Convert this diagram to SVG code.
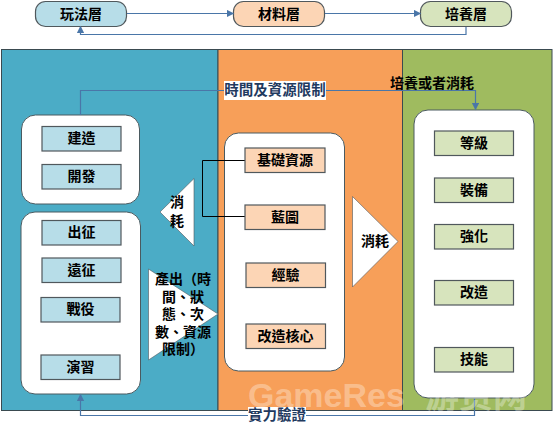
<svg xmlns="http://www.w3.org/2000/svg" width="554" height="430" viewBox="0 0 554 430">
<style>
text{font-family:"Liberation Sans","Noto Sans CJK TC","Noto Sans CJK SC",sans-serif;font-weight:700;font-size:14px;fill:#000;text-anchor:middle;dominant-baseline:central}
.band{stroke:#3a4a50;stroke-width:1}
.panel{fill:#fff;stroke:#4a5a60;stroke-width:1}
.b{fill:#b7dde8;stroke:#50585c;stroke-width:1.2}
.o{fill:#fcd5b5;stroke:#50585c;stroke-width:1.2}
.g{fill:#d7e4bd;stroke:#50585c;stroke-width:1.2}
.arrow{fill:#fff;stroke:#50585c;stroke-width:.6}
.c{fill:none;stroke:#4a76a8;stroke-width:1.2}
.k{fill:none;stroke:#000;stroke-width:1}
.lab{fill:#1f3a5f;font-size:14.500px}
.wm{font-family:"Liberation Sans",sans-serif;fill:#fff;fill-opacity:.32;font-size:34px;text-anchor:start;dominant-baseline:alphabetic}
.wz{font-family:"Noto Sans CJK SC",sans-serif}
</style>
<defs><marker id="ah" markerWidth="7" markerHeight="7" refX="5" refY="3" orient="auto"><path d="M0 0L6 3L0 6Z" fill="#4a76a8"/></marker></defs>
<g id="bands">
<rect class="band" x="1.500" y="49.500" width="216.500" height="361" fill="#4bacc6"/>
<rect class="band" x="218" y="49.500" width="184.500" height="361" fill="#f79f59"/>
<rect class="band" x="402.500" y="49.500" width="149.500" height="361" fill="#9fbb5f"/>
</g>
<g id="layer-play"><rect class="b" x="35.500" y="1.500" width="91" height="25" rx="10"/><text x="81" y="13.500">玩法層</text></g>
<g id="layer-material"><rect class="o" x="233.500" y="1.500" width="91" height="25" rx="10"/><text x="279" y="13.500">材料層</text></g>
<g id="layer-train"><rect class="g" x="420.500" y="1.500" width="91" height="25" rx="10"/><text x="466" y="13.500">培養層</text></g>
<g id="panel-build"><rect class="panel" x="21.500" y="115" width="118" height="89" rx="14"/></g>
<g id="panel-battle"><rect class="panel" x="21" y="212" width="119.500" height="182" rx="14"/></g>
<g id="panel-resource"><rect class="panel" x="224.500" y="133" width="120" height="238" rx="14"/></g>
<g id="panel-growth"><rect class="panel" x="414" y="110" width="120" height="288" rx="14"/></g>
<g id="connectors">
<path class="c" d="M127 13.500H233" marker-end="url(#ah)"/>
<path class="c" d="M325 13.500H420" marker-end="url(#ah)"/>
<path class="c" d="M466 27V34.500H80.500V27" marker-end="url(#ah)"/>
<path class="c" d="M80.500 115V90.500H475.500V109" marker-end="url(#ah)"/>
<path class="c" d="M474.500 398V415.500H80.500V395" marker-end="url(#ah)"/>
<path class="k" d="M245 160.500H202.500V216.500H245"/>
</g>
<g id="n-build"><rect class="b" x="42" y="126.500" width="79" height="24.500"/><text x="81.500" y="138">建造</text></g>
<g id="n-dev"><rect class="b" x="42" y="164.500" width="79" height="24.500"/><text x="81.500" y="176">開發</text></g>
<g id="n-out"><rect class="b" x="42" y="220.500" width="79" height="24.500"/><text x="81.500" y="232">出征</text></g>
<g id="n-far"><rect class="b" x="42" y="258" width="79" height="24.500"/><text x="81.500" y="269.500">遠征</text></g>
<g id="n-war"><rect class="b" x="41" y="297.500" width="79" height="24.500"/><text x="80.500" y="309">戰役</text></g>
<g id="n-drill"><rect class="b" x="41" y="355" width="79" height="24.500"/><text x="80.500" y="366.500">演習</text></g>
<g id="n-base"><rect class="o" x="245" y="148" width="80" height="24.500"/><text x="285" y="160">基礎資源</text></g>
<g id="n-blue"><rect class="o" x="245" y="205" width="80" height="24.500"/><text x="285" y="217">藍圖</text></g>
<g id="n-exp"><rect class="o" x="246" y="263" width="79.500" height="24.500"/><text x="285.500" y="275">經驗</text></g>
<g id="n-core"><rect class="o" x="246" y="324" width="79.500" height="24.500"/><text x="285.500" y="336">改造核心</text></g>
<g id="n-level"><rect class="g" x="434.500" y="131" width="79" height="24.500"/><text x="474" y="142.500">等級</text></g>
<g id="n-equip"><rect class="g" x="434.500" y="178" width="79" height="24.500"/><text x="474" y="190">裝備</text></g>
<g id="n-up"><rect class="g" x="434.500" y="224.500" width="79" height="24.500"/><text x="474" y="236">強化</text></g>
<g id="n-mod"><rect class="g" x="434.500" y="280.500" width="79" height="24.500"/><text x="474" y="292">改造</text></g>
<g id="n-skill"><rect class="g" x="434.500" y="347.500" width="79" height="24.500"/><text x="474" y="359">技能</text></g>
<g id="arrow-consume-left"><path class="arrow" d="M194 178.500V246L160 212Z"/><text style="dominant-baseline:alphabetic"><tspan x="177" y="207">消</tspan><tspan x="177" y="226">耗</tspan></text></g>
<g id="arrow-consume-right"><path class="arrow" d="M352.500 196.500V287L398 241.500Z"/><text x="375" y="241">消耗</text></g>
<g id="arrow-output"><path class="arrow" d="M148.500 269V360L218 314Z"/>
<text style="dominant-baseline:alphabetic"><tspan x="183" y="284">產出（時</tspan><tspan x="183" y="302">間、狀</tspan><tspan x="183" y="319">態、次</tspan><tspan x="183" y="337">數、資源</tspan><tspan x="183" y="354">限制）</tspan></text></g>
<g id="watermark"><text class="wm" x="248" y="407">GameRes</text><text class="wm wz" x="425" y="408">游资网</text></g>
<g id="label-time"><rect x="224" y="81" width="102" height="19" fill="#fff"/><text class="lab" x="275" y="90">時間及資源限制</text></g>
<g id="label-cost"><text x="432" y="83">培養或者消耗</text></g>
<g id="label-proof"><rect x="248" y="407" width="58" height="16" fill="#fff"/><text class="lab" x="277" y="415">實力驗證</text></g>
</svg>
